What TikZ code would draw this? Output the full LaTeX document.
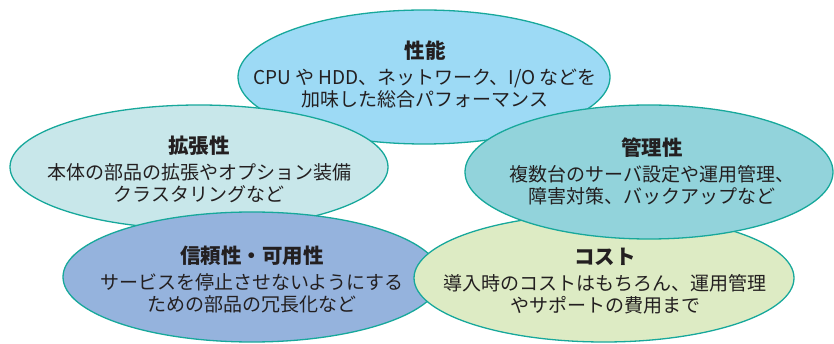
\documentclass[tikz,border=0pt]{standalone}
\usepackage{fontspec}
\setmainfont{Noto Sans CJK JP}
\usetikzlibrary{shapes.geometric}
\definecolor{edgec}{HTML}{17A89B}
\definecolor{ink}{HTML}{231F20}
\definecolor{cPerf}{HTML}{9DDAF5}
\definecolor{cExt}{HTML}{C8E7EA}
\definecolor{cMgmt}{HTML}{92D3DB}
\definecolor{cRel}{HTML}{95B3DD}
\definecolor{cCost}{HTML}{DDEBC4}
\newcommand\bubtitle[1]{{\fontsize{20.5}{22}\selectfont\bfseries #1}}
\newcommand\jsp{\hspace{0.22em}}
\begin{document}
\begin{tikzpicture}[x=1pt,y=-1pt,
  bubble/.style={ellipse, draw=edgec, line width=1.3pt, inner sep=0pt},
  txt/.style={align=center, text=ink, inner sep=0pt, font=\fontsize{19}{22}\selectfont},
]
\useasboundingbox (0,0) rectangle (834,344);
% ellipses (back to front)
\node[bubble, fill=cPerf, minimum width=372pt, minimum height=134pt] (perf) at (424,77) {};
\node[bubble, fill=cExt,  minimum width=378pt, minimum height=124pt] (ext)  at (199,167) {};
\node[bubble, fill=cRel,  minimum width=378pt, minimum height=130pt] (rel)  at (252,277) {};
\node[bubble, fill=cCost, minimum width=380pt, minimum height=128pt] (cost) at (604,278) {};
\node[bubble, fill=cMgmt, minimum width=368pt, minimum height=134pt] (mgmt) at (649,172) {};
% texts
\node[txt] (perfT) at (425,74) {\bubtitle{性能}\\[4pt]CPU\jsp や\jsp HDD、ネットワーク、I/O\jsp などを\\加味した総合パフォーマンス};
\node[txt] (extT)  at (199,169) {\bubtitle{拡張性}\\[4pt]本体の部品の拡張やオプション装備\\クラスタリングなど};
\node[txt] (mgmtT) at (652,171) {\bubtitle{管理性}\\[4pt]複数台のサーバ設定や運用管理、\\障害対策、バックアップなど};
\node[txt] (relT)  at (252,280) {\bubtitle{信頼性・可用性}\\[4pt]サービスを停止させないようにする\\ための部品の冗長化など};
\node[txt] (costT) at (605,281) {\bubtitle{コスト}\\[4pt]導入時のコストはもちろん、運用管理\\やサポートの費用まで};
\end{tikzpicture}
\end{document}
